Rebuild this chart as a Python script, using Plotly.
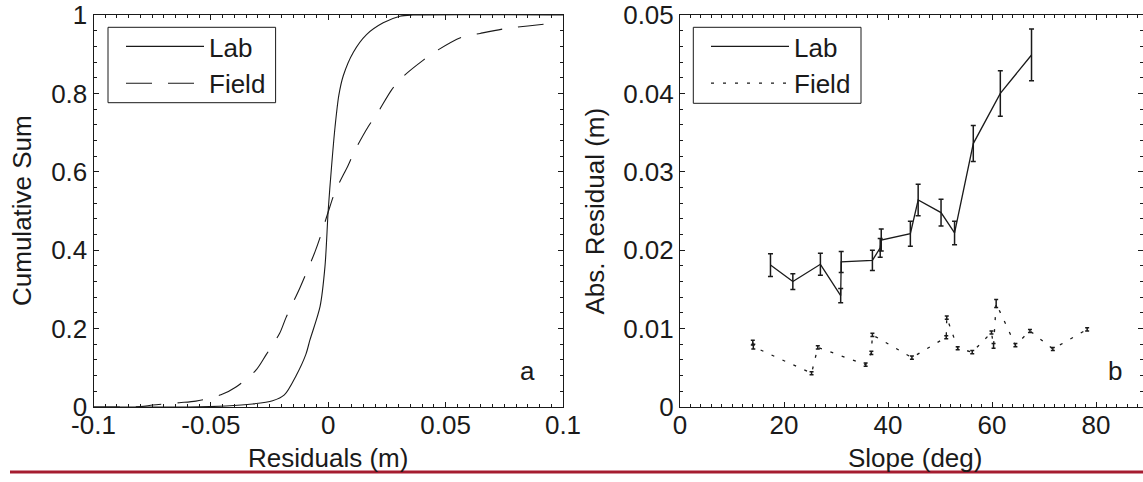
import plotly.graph_objects as go

# ---------------- data: panel a (cumulative distributions) ----------------
lab_resid = [-0.1, -0.06, -0.0436, -0.0322, -0.0237, -0.0187, -0.0137, -0.0095, -0.0078,
             -0.0035, -0.0014, 0.0, 0.0014, 0.0029, 0.0045, 0.0064, 0.0107, 0.0163,
             0.0234, 0.0305, 0.036, 0.1]
lab_cum = [0.0, 0.0, 0.0026, 0.0077, 0.016, 0.031, 0.080, 0.135, 0.171,
           0.256, 0.358, 0.503, 0.613, 0.715, 0.795, 0.845, 0.905, 0.950,
           0.980, 0.997, 1.0, 1.0]

field_resid = [-0.1, -0.08, -0.0748, -0.0635, -0.0564, -0.0457, -0.0393, -0.0308, -0.0265,
               -0.0207, -0.018, -0.012, -0.0057, -0.0035, 0.0, 0.0029, 0.0085,
               0.0114, 0.017, 0.0213, 0.027, 0.0319, 0.0405, 0.0468, 0.0568, 0.0647,
               0.0761, 0.085, 0.097]
field_cum = [0.0, 0.001, 0.005, 0.011, 0.015, 0.031, 0.051, 0.094, 0.133,
             0.188, 0.228, 0.305, 0.395, 0.432, 0.498, 0.549, 0.617,
             0.655, 0.715, 0.753, 0.809, 0.843, 0.885, 0.911, 0.943, 0.953,
             0.966, 0.972, 0.98]

# ---------------- data: panel b (abs residual vs slope) ----------------
lab_slope = [17.4, 21.7, 27.0, 30.9, 31.0, 37.0, 38.5, 38.7, 44.3, 45.8, 50.2, 52.8, 56.4, 61.6, 67.6]
lab_abs = [0.0181, 0.0160, 0.0182, 0.0142, 0.0185, 0.0187, 0.0203, 0.0213, 0.0221, 0.0264,
           0.0248, 0.0222, 0.0336, 0.0400, 0.0449]
lab_err = [0.00145, 0.0010, 0.0014, 0.0009, 0.00135, 0.0013, 0.0012, 0.0014, 0.0016, 0.0020,
           0.0017, 0.0015, 0.0023, 0.0029, 0.0033]

field_slope = [14.0, 14.1, 25.3, 26.5, 35.7, 36.8, 37.0, 44.6, 51.2, 51.3, 53.4, 56.2,
               59.9, 60.3, 60.8, 64.5, 67.3, 71.7, 78.3]
field_abs = [0.0082, 0.0077, 0.0043, 0.0076, 0.0054, 0.0069, 0.0092, 0.0063, 0.0089, 0.0114,
             0.0075, 0.0070, 0.0095, 0.0078, 0.0132, 0.0079, 0.0097, 0.0074, 0.0099]
field_err = [0.0003, 0.0003, 0.0002, 0.0002, 0.0002, 0.0002, 0.0002, 0.0002, 0.0002, 0.0002,
             0.0002, 0.0002, 0.0002, 0.0003, 0.0005, 0.0002, 0.0002, 0.0002, 0.0002]

series_names = ["Lab", "Field"]
x_titles = ["Residuals (m)", "Slope (deg)"]
y_titles = ["Cumulative Sum", "Abs. Residual (m)"]
panel_tags = ["a", "b"]
a_ticks = [-0.1, -0.05, 0, 0.05, 0.1]
a_ticktext = ["-0.1", "-0.05", "0", "0.05", "0.1"]
a_yticks = [0, 0.2, 0.4, 0.6, 0.8, 1]
a_yticktext = ["0", "0.2", "0.4", "0.6", "0.8", "1"]
b_ticks = [0, 20, 40, 60, 80]
b_yticks = [0, 0.01, 0.02, 0.03, 0.04, 0.05]
b_yticktext = ["0", "0.01", "0.02", "0.03", "0.04", "0.05"]

W, H = 1143, 482
INK = "#1a1a1a"
FONT = "Liberation Sans, Arial, sans-serif"
FS = 26


def px(xp):
    return xp / W


def py(yp):
    return (H - yp) / H


fig = go.Figure()

fig.add_trace(go.Scatter(x=lab_resid, y=lab_cum, mode="lines", name=series_names[0],
                         line=dict(color=INK, width=1.1, shape="spline", smoothing=0.8),
                         xaxis="x", yaxis="y", legend="legend"))
fig.add_trace(go.Scatter(x=field_resid, y=field_cum, mode="lines", name=series_names[1],
                         line=dict(color=INK, width=1.1, dash="26px,16px", shape="spline", smoothing=0.8),
                         xaxis="x", yaxis="y", legend="legend"))

fig.add_trace(go.Scatter(x=lab_slope, y=lab_abs, mode="lines", name=series_names[0],
                         line=dict(color=INK, width=1.3),
                         error_y=dict(type="data", array=lab_err, color=INK, thickness=1.5, width=2.5),
                         xaxis="x2", yaxis="y2", legend="legend2"))
fig.add_trace(go.Scatter(x=field_slope, y=field_abs, mode="lines", name=series_names[1],
                         line=dict(color=INK, width=1.3, dash="3px,9px"),
                         error_y=dict(type="data", array=field_err, color=INK, thickness=1.5, width=2),
                         xaxis="x2", yaxis="y2", legend="legend2"))

x_l = [px(93.5), px(563)]
x_r = [px(680), 1.0]
y_d = [py(407), py(15)]

axis_common = dict(showline=True, linecolor=INK, linewidth=1, mirror="allticks",
                   ticks="inside", ticklen=5, tickcolor=INK, tickwidth=1,
                   showgrid=False, zeroline=False, automargin=False,
                   tickfont=dict(family=FONT, size=FS, color=INK))

fig.update_layout(
    width=W, height=H,
    margin=dict(l=0, r=0, t=0, b=0),
    paper_bgcolor="white", plot_bgcolor="white",
    font=dict(family=FONT, size=FS, color=INK),
    xaxis=dict(domain=x_l, range=[-0.1, 0.1], anchor="y", tickvals=a_ticks, ticktext=a_ticktext,
               ticklabelstandoff=-5,
               minor=dict(dtick=0.005, ticks="inside", ticklen=3, tickcolor=INK), **axis_common),
    yaxis=dict(domain=y_d, range=[0, 1], anchor="x", tickvals=a_yticks, ticktext=a_yticktext,
               minor=dict(dtick=0.04, ticks="inside", ticklen=3, tickcolor=INK), **axis_common),
    xaxis2=dict(domain=x_r, range=[0, (W - 680) / 5.2], anchor="y2", tickvals=b_ticks,
                ticklabelstandoff=-5,
                minor=dict(dtick=2, ticks="inside", ticklen=3, tickcolor=INK), **axis_common),
    yaxis2=dict(domain=y_d, range=[0, 0.05], anchor="x2", tickvals=b_yticks, ticktext=b_yticktext,
                minor=dict(dtick=0.002, ticks="inside", ticklen=3, tickcolor=INK), **axis_common),
    legend=dict(x=px(121), y=py(23), xanchor="left", yanchor="top",
                borderwidth=0, bgcolor="rgba(0,0,0,0)", itemwidth=78,
                font=dict(family=FONT, size=FS, color=INK), tracegroupgap=0),
    legend2=dict(x=px(706), y=py(23), xanchor="left", yanchor="top",
                 borderwidth=0, bgcolor="rgba(0,0,0,0)", itemwidth=78,
                 font=dict(family=FONT, size=FS, color=INK), tracegroupgap=0),
    showlegend=True,
)

# legend frames
fig.add_shape(type="rect", xref="paper", yref="paper", x0=px(108), x1=px(275.6),
              y0=py(102.7), y1=py(27.3), line=dict(color=INK, width=1), layer="above")
fig.add_shape(type="rect", xref="paper", yref="paper", x0=px(693.3), x1=px(861),
              y0=py(103.3), y1=py(27.3), line=dict(color=INK, width=1), layer="above")

ann = dict(xref="paper", yref="paper", showarrow=False, xanchor="center", yanchor="middle",
           font=dict(family=FONT, size=FS, color=INK))

# axis titles
fig.add_annotation(text=x_titles[0], x=px(328), y=py(458), **ann)
fig.add_annotation(text=x_titles[1], x=px(915), y=py(458), **ann)
fig.add_annotation(text=y_titles[0], x=px(22), y=py(211), textangle=-90, **ann)
fig.add_annotation(text=y_titles[1], x=px(594.5), y=py(211), textangle=-90, **ann)

# panel tags
fig.add_annotation(text=panel_tags[0], x=px(527), y=py(371), **ann)
fig.add_annotation(text=panel_tags[1], x=px(1115), y=py(371), **ann)

# crimson rule under the figure
fig.add_shape(type="line", xref="paper", yref="paper", x0=px(10), x1=1.0,
              y0=py(472), y1=py(472), line=dict(color="#a51c30", width=3))

fig.write_html("out.html", config={"displayModeBar": False},
               post_script="document.body.style.margin='0';document.body.style.padding='0';")
